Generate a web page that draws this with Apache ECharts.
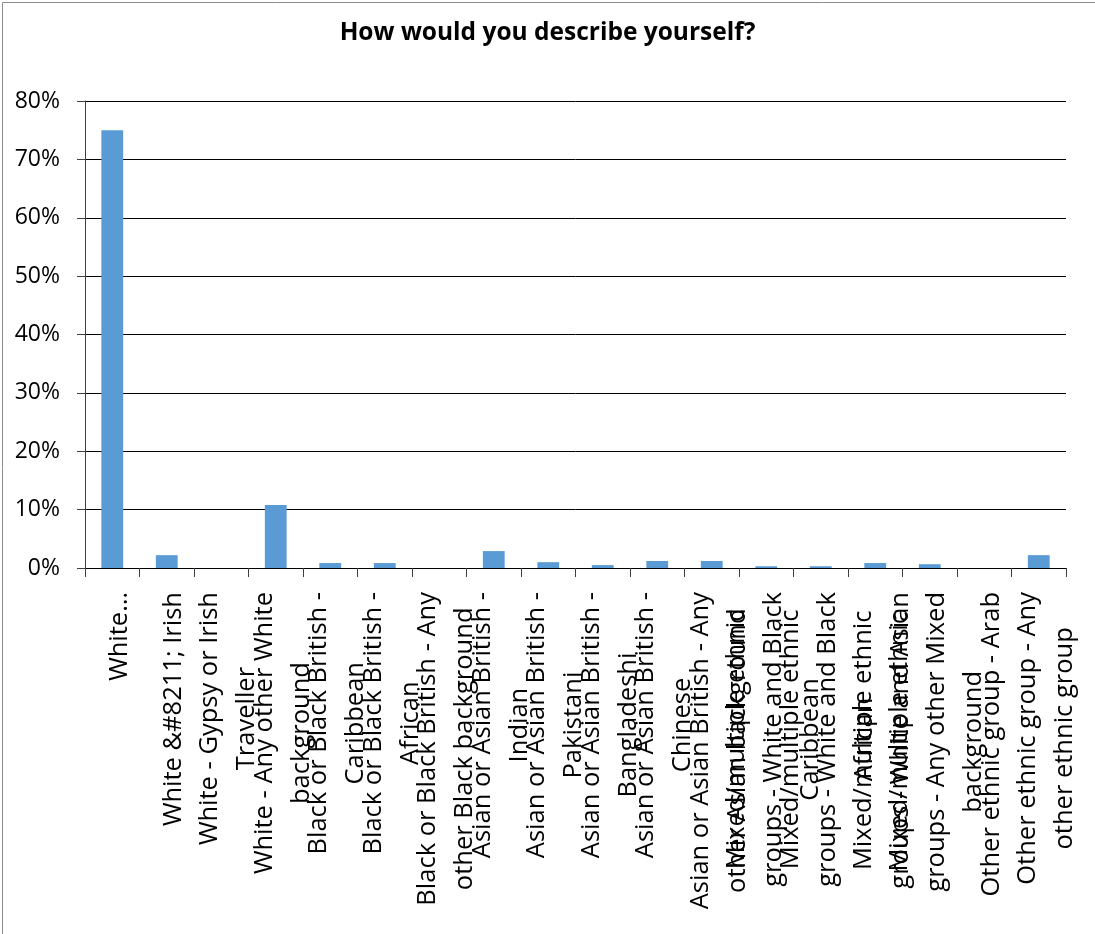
<!DOCTYPE html>
<html>
<head>
<meta charset="utf-8">
<script src="https://cdn.jsdelivr.net/npm/echarts@6/dist/echarts.min.js"></script>
<style>
html,body{margin:0;padding:0;background:#fff;}
#chart{width:1095px;height:934px;}
</style>
</head>
<body>
<div id="chart"></div>
<script>
var titleText = 'How would you describe yourself?';
var categories = [
  'White…',
  'White &#8211; Irish',
  'White - Gypsy or Irish\nTraveller',
  'White - Any other White\nbackground',
  'Black or Black British -\nCaribbean',
  'Black or Black British -\nAfrican',
  'Black or Black British - Any\nother Black background',
  'Asian or Asian British -\nIndian',
  'Asian or Asian British -\nPakistani',
  'Asian or Asian British -\nBangladeshi',
  'Asian or Asian British -\nChinese',
  'Asian or Asian British - Any\nother Asian background',
  'Mixed/multiple ethnic\ngroups - White and Black\nCaribbean',
  'Mixed/multiple ethnic\ngroups - White and Black\nAfrican',
  'Mixed/multiple ethnic\ngroups - White and Asian',
  'Mixed/multiple ethnic\ngroups - Any other Mixed\nbackground',
  'Other ethnic group - Arab',
  'Other ethnic group - Any\nother ethnic group'
];
var values = [75.0, 2.2, 0, 10.8, 0.85, 0.85, 0, 2.9, 1.0, 0.5, 1.2, 1.2, 0.3, 0.3, 0.85, 0.65, 0, 2.2];
var yMin = 0, yMax = 80, yStep = 10;

var chart = echarts.init(document.getElementById('chart'), null, {renderer: 'canvas'});
var FONT = '"Open Sans", "Noto Sans", sans-serif';
chart.setOption({
  animation: false,
  backgroundColor: '#ffffff',
  graphic: [{
    type: 'rect', left: 0, top: 0, silent: true,
    shape: {x: 0.5, y: 0.5, width: 1093, height: 932},
    style: {fill: 'none', stroke: '#8c8c8c', lineWidth: 1}
  }],
  title: {
    text: titleText,
    left: 'center',
    top: 16,
    textStyle: {fontFamily: FONT, fontWeight: 'bold', fontSize: 24.5, color: '#000'}
  },
  grid: {left: 85, right: 29, top: 101, bottom: 366, containLabel: false, outerBoundsMode: 'none'},
  xAxis: {
    type: 'category',
    data: categories,
    boundaryGap: true,
    axisLine: {show: true, lineStyle: {color: '#000', width: 1}},
    axisTick: {show: true, alignWithLabel: false, length: 9, lineStyle: {color: '#404040'}},
    axisLabel: {
      interval: 0,
      rotate: 90,
      margin: 24,
      hideOverlap: false,
      fontFamily: FONT,
      fontSize: 25.5,
      color: '#000',
      lineHeight: 37,
      padding: [14, 0, 0, 0],
      formatter: function (v) {
        return v.split('\n').map(function (l) { return '{c|' + l + '}'; }).join('\n');
      },
      rich: {c: {align: 'center', fontFamily: FONT, fontSize: 25.5, lineHeight: 37, color: '#000'}}
    }
  },
  yAxis: {
    type: 'value',
    min: yMin, max: yMax, interval: yStep,
    axisLine: {show: true, lineStyle: {color: '#404040', width: 1}},
    axisTick: {show: true, length: 8, lineStyle: {color: '#404040'}},
    splitLine: {show: true, lineStyle: {color: '#000', width: 1}},
    axisLabel: {
      formatter: '{value}%',
      margin: 25,
      fontFamily: FONT,
      fontSize: 23,
      color: '#000'
    }
  },
  series: [{
    type: 'bar',
    data: values,
    barWidth: '40%',
    itemStyle: {color: '#5b9bd5'}
  }]
});
</script>
</body>
</html>
